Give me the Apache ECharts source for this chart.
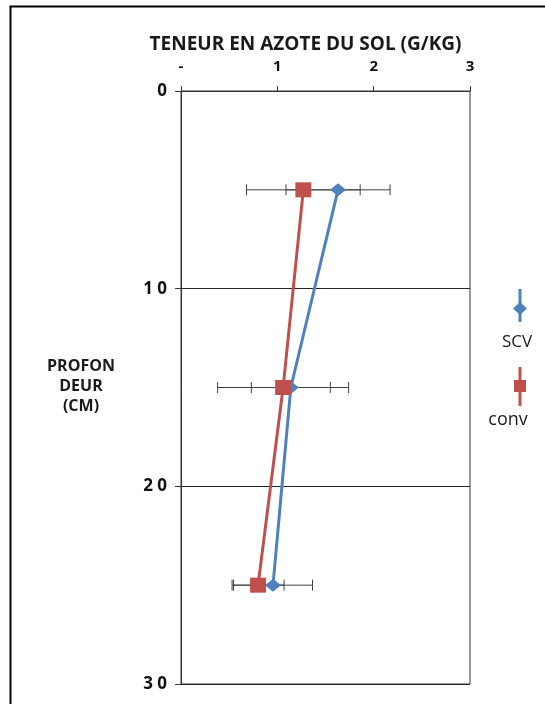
<!DOCTYPE html>
<html><head><meta charset="utf-8">
<script src="https://cdn.jsdelivr.net/npm/echarts@6/dist/echarts.min.js"></script>
<style>html,body{margin:0;padding:0;background:#fff}#c{width:545px;height:704px}</style>
</head><body><div id="c"></div>
<script>
// Depths (cm)
const depths = [5, 15, 25];
// SCV values and error (g/kg)
const scvValues = [1.63, 1.14, 0.955];
const scvErrors = [0.54, 0.41, 0.41];
// conv values and error (g/kg)
const convValues = [1.27, 1.06, 0.80];
const convErrors = [0.59, 0.68, 0.27];
// tick labels
const xTickLabels = ['-', '1', '2', '3'];
const yTickLabels = ['0', '1 0', '2 0', '3 0'];
const seriesNames = ['SCV', 'conv'];

const blue = '#4F81BD', red = '#C0504D';
const font = 'Open Sans';

function pts(vals){ return vals.map((v,i)=>[v, depths[i]]); }
function errData(vals, errs){ return vals.map((v,i)=>[v-errs[i], v+errs[i], depths[i]]); }

function errRender(params, api){
  const lo = api.coord([api.value(0), api.value(2)]);
  const hi = api.coord([api.value(1), api.value(2)]);
  const h = 5.5;
  const st = {stroke:'#404040', lineWidth:1};
  return {type:'group', children:[
    {type:'line', shape:{x1:lo[0],y1:lo[1],x2:hi[0],y2:hi[1]}, style:st},
    {type:'line', shape:{x1:lo[0],y1:lo[1]-h,x2:lo[0],y2:lo[1]+h}, style:st},
    {type:'line', shape:{x1:hi[0],y1:hi[1]-h,x2:hi[0],y2:hi[1]+h}, style:st}
  ]};
}

const chart = echarts.init(document.getElementById('c'));
chart.setOption({
  animation:false,
  backgroundColor:'#fff',
  grid:{left:181, right:75, top:91, bottom:20, show:true, borderColor:'#333', borderWidth:1, backgroundColor:'transparent'},
  xAxis:{type:'value', position:'top', min:0, max:3, interval:1,
    name:'TENEUR EN AZOTE DU SOL (G/KG)', nameLocation:'middle', nameGap:46,
    nameTextStyle:{fontFamily:font, fontWeight:'bold', fontSize:19, color:'#1a1a1a', verticalAlign:'middle', padding:[0,40,0,0]},
    axisLine:{show:true, lineStyle:{color:'#333'}},
    axisTick:{show:true, length:5, lineStyle:{color:'#333'}},
    splitLine:{show:false},
    axisLabel:{margin:17, fontFamily:font, fontWeight:'bold', fontSize:15, color:'#111',
      formatter:(v)=>xTickLabels[Math.round(v)]}
  },
  yAxis:{type:'value', inverse:true, min:0, max:30, interval:10,
    axisLine:{show:true, lineStyle:{color:'#333'}},
    axisTick:{show:true, length:6, lineStyle:{color:'#333'}},
    splitLine:{show:true, lineStyle:{color:'#222', width:1}},
    axisLabel:{margin:14, fontFamily:font, fontWeight:'bold', fontSize:17, color:'#111',
      formatter:(v)=>yTickLabels[Math.round(v/10)]}
  },
  graphic:[
    {type:'rect', shape:{x:10.5, y:6.5, width:700, height:800}, style:{fill:'none', stroke:'#000', lineWidth:2}, z:100},
    {type:'text', style:{text:'PROFON\nDEUR\n(CM)', x:81, y:386, align:'center', verticalAlign:'middle', font:'bold 16px "Open Sans"', fill:'#1a1a1a', lineHeight:20}},
    // legend SCV
    {type:'line', shape:{x1:520,y1:289,x2:520,y2:322}, style:{stroke:blue, lineWidth:3}},
    {type:'polygon', shape:{points:[[513,308.5],[520,302],[527,308.5],[520,315]]}, style:{fill:blue}},
    {type:'text', style:{text:seriesNames[0], x:517, y:342, align:'center', verticalAlign:'middle', font:'17px "Open Sans"', fill:'#1a1a1a'}},
    // legend conv
    {type:'line', shape:{x1:520,y1:367,x2:520,y2:406}, style:{stroke:red, lineWidth:3}},
    {type:'rect', shape:{x:514,y:380,width:12,height:12}, style:{fill:red}},
    {type:'text', style:{text:seriesNames[1], x:508, y:420, align:'center', verticalAlign:'middle', font:'18px "Open Sans"', fill:'#1a1a1a'}}
  ],
  series:[
    {type:'custom', name:'errSCV', renderItem:errRender, data:errData(scvValues, scvErrors), z:1, encode:{x:[0,1], y:2}},
    {type:'custom', name:'errConv', renderItem:errRender, data:errData(convValues, convErrors), z:1, encode:{x:[0,1], y:2}},
    {type:'line', name:seriesNames[0], data:pts(scvValues), z:3, symbol:'diamond', symbolSize:[16,13],
      lineStyle:{color:blue, width:3}, itemStyle:{color:blue}},
    {type:'line', name:seriesNames[1], data:pts(convValues), z:4, symbol:'rect', symbolSize:[16,15],
      lineStyle:{color:red, width:3}, itemStyle:{color:red}}
  ]
});
</script></body></html>
